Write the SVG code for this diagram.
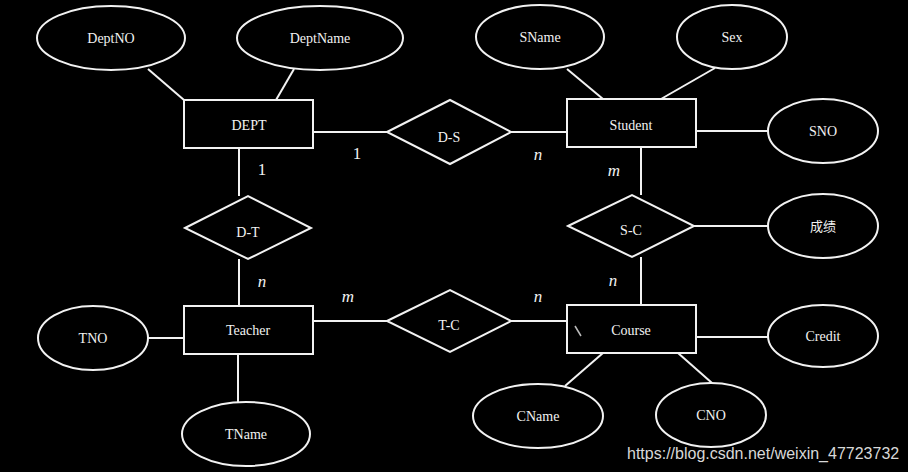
<svg xmlns="http://www.w3.org/2000/svg" width="908" height="472" viewBox="0 0 908 472">
<style>
.s{fill:none;stroke:#f2f2f2;stroke-width:2}
.t{font-family:"Liberation Serif","DejaVu Serif","Times New Roman",serif;font-size:14px;fill:#f2f2f2;text-anchor:middle}
.c{font-family:"Liberation Serif","DejaVu Serif","Times New Roman",serif;font-size:17px;fill:#f2f2f2;text-anchor:middle}
.i{font-style:italic}
.w{font-family:"Liberation Sans",Arial,sans-serif;font-size:16px;fill:#d8d8d8}
</style>
<rect width="908" height="472" fill="#000"/>
<g id="connectors" class="s">
<line x1="148" y1="69" x2="184" y2="100"/>
<line x1="294" y1="69" x2="276" y2="100"/>
<line x1="313" y1="132" x2="387" y2="132"/>
<line x1="239" y1="148" x2="239" y2="196"/>
<line x1="239" y1="259" x2="239" y2="306"/>
<line x1="148" y1="338" x2="184" y2="338"/>
<line x1="238" y1="354" x2="238" y2="402"/>
<line x1="313" y1="321" x2="387" y2="321"/>
<line x1="567" y1="69" x2="603" y2="99"/>
<line x1="715" y1="68" x2="661" y2="99"/>
<line x1="511" y1="132" x2="567" y2="132"/>
<line x1="696" y1="131" x2="768" y2="131"/>
<line x1="641" y1="147" x2="641" y2="195"/>
<line x1="694" y1="226" x2="768" y2="226"/>
<line x1="641" y1="257" x2="641" y2="305"/>
<line x1="511" y1="321" x2="567" y2="321"/>
<line x1="696" y1="337" x2="768" y2="337"/>
<line x1="603" y1="353" x2="565" y2="386"/>
<line x1="678" y1="353" x2="712" y2="383"/>
</g>
<g id="card">
<text class="c" x="357" y="159">1</text>
<text class="c" x="262" y="175">1</text>
<text class="c i" x="538" y="160">n</text>
<text class="c i" x="614" y="176">m</text>
<text class="c i" x="262" y="287">n</text>
<text class="c i" x="348" y="302">m</text>
<text class="c i" x="538" y="302">n</text>
<text class="c i" x="613" y="286">n</text>
</g>
<g id="DeptNO"><ellipse class="s" cx="111" cy="38" rx="74" ry="32"/><text class="t" x="111" y="43">DeptNO</text></g>
<g id="DeptName"><ellipse class="s" cx="320" cy="38" rx="83" ry="32"/><text class="t" x="320" y="43">DeptName</text></g>
<g id="DEPT"><rect class="s" x="184" y="100" width="129" height="48"/><text class="t" x="249" y="130">DEPT</text></g>
<g id="D-S"><polygon class="s" points="387,132 450,100 511,132 450,164"/><text class="t" x="449" y="142">D-S</text></g>
<g id="D-T"><polygon class="s" points="185,228 248,196 311,228 248,259"/><text class="t" x="248" y="237">D-T</text></g>
<g id="Teacher"><rect class="s" x="184" y="306" width="129" height="48"/><text class="t" x="248" y="335">Teacher</text></g>
<g id="TNO"><ellipse class="s" cx="93" cy="338" rx="55" ry="32"/><text class="t" x="93" y="343">TNO</text></g>
<g id="TName"><ellipse class="s" cx="246" cy="434" rx="64" ry="32"/><text class="t" x="246" y="439">TName</text></g>
<g id="T-C"><polygon class="s" points="387,321 450,290 511,321 450,352"/><text class="t" x="449" y="330">T-C</text></g>
<g id="SName"><ellipse class="s" cx="540" cy="37" rx="64" ry="32"/><text class="t" x="540" y="42">SName</text></g>
<g id="Sex"><ellipse class="s" cx="732" cy="37" rx="55" ry="32"/><text class="t" x="732" y="42">Sex</text></g>
<g id="Student"><rect class="s" x="567" y="99" width="129" height="48"/><text class="t" x="631" y="130">Student</text></g>
<g id="SNO"><ellipse class="s" cx="823" cy="131" rx="55" ry="32"/><text class="t" x="823" y="136">SNO</text></g>
<g id="S-C"><polygon class="s" points="568,226 632,195 694,226 632,257"/><text class="t" x="631" y="235">S-C</text></g>
<g id="score"><ellipse class="s" cx="823" cy="226" rx="55" ry="32"/><text class="t" x="823" y="231" style="font-family:'Liberation Serif','Noto Sans CJK SC',serif;font-size:13px">成绩</text></g>
<g id="Course"><rect class="s" x="567" y="305" width="129" height="48"/><path d="M575,326 L581,336" stroke="#bbb" stroke-width="1.5" fill="none"/><text class="t" x="631" y="335">Course</text></g>
<g id="Credit"><ellipse class="s" cx="823" cy="336" rx="55" ry="31"/><text class="t" x="823" y="341">Credit</text></g>
<g id="CName"><ellipse class="s" cx="538" cy="416" rx="65" ry="32"/><text class="t" x="538" y="421">CName</text></g>
<g id="CNO"><ellipse class="s" cx="711" cy="415" rx="55" ry="32"/><text class="t" x="711" y="420">CNO</text></g>
<text class="w" x="627" y="459">https://blog.csdn.net/weixin_47723732</text>
</svg>
